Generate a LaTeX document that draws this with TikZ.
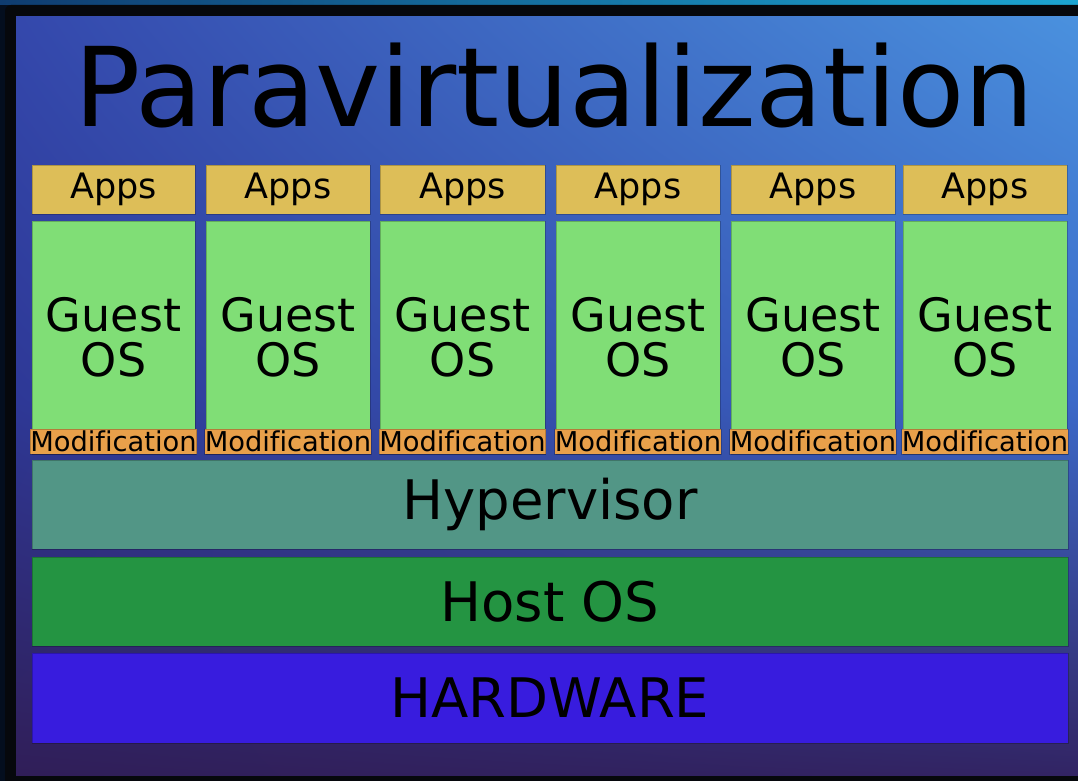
\documentclass[tikz,border=0pt]{standalone}
\usepackage{fontspec}
\setmainfont{DejaVu Sans}[Ligatures=CommonOff]
\usetikzlibrary{shadings}
\definecolor{appsc}{RGB}{221,190,88}
\definecolor{guestc}{RGB}{128,222,118}
\definecolor{modc}{RGB}{232,160,74}
\definecolor{hyperc}{RGB}{82,150,134}
\definecolor{hostc}{RGB}{36,148,66}
\definecolor{hwc}{RGB}{56,28,222}
\definecolor{outerc}{RGB}{4,14,30}
\definecolor{framec}{RGB}{6,8,12}
\definecolor{stripl}{RGB}{15,60,112}
\definecolor{stripr}{RGB}{28,165,210}
\definecolor{pUL}{RGB}{52,72,172}
\definecolor{pUR}{RGB}{74,145,222}
\definecolor{pML}{RGB}{46,56,150}
\definecolor{pMR}{RGB}{60,105,200}
\definecolor{pLL}{RGB}{48,30,88}
\definecolor{pLR}{RGB}{50,36,100}
\tikzset{
  layer/.style={inner sep=0pt, outer sep=0pt, draw=black, draw opacity=0.22, line width=1pt, text=black},
  appsbox/.style={layer, fill=appsc, minimum height=49pt, font=\fontsize{35}{35}\selectfont},
  guestbox/.style={layer, fill=guestc, minimum height=233pt, align=center, font=\fontsize{46}{45}\selectfont},
  modbox/.style={layer, fill=modc, minimum height=25pt, font=\fontsize{27.3}{27.3}\selectfont},
  widebox/.style={layer, minimum width=1036pt, font=\fontsize{54.5}{54.5}\selectfont},
}
\begin{document}
\begin{tikzpicture}[x=1pt,y=-1pt]
\useasboundingbox (0,0) rectangle (1078,781);
% outer background
\fill[outerc] (0,0) rectangle (1078,781);
\shade[left color=stripl, right color=stripr] (0,0) rectangle (1078,5);
% black frame
\fill[framec, rounded corners=6pt] (5,5) rectangle (1100,800);
% panel
\shade[upper left=pUL, upper right=pUR, lower left=pML, lower right=pMR] (16,17) rectangle (1078,400.5);
\shade[upper left=pML, upper right=pMR, lower left=pLL, lower right=pLR] (16,400) rectangle (1078,775);
% title
\node[anchor=base, inner sep=0pt, font=\fontsize{110}{110}\selectfont] (title) at (554,127) {Paravirtualization};
% columns
\foreach \i/\l/\r in {1/32/195, 2/206/370, 3/380/545, 4/556/720, 5/731/895, 6/903/1067}{
  \pgfmathsetmacro{\w}{\r-\l}
  \pgfmathsetmacro{\c}{(\r+\l)/2}
  \node[appsbox, minimum width=\w pt] (apps\i) at (\c,189.5) {Apps};
  \node[guestbox, minimum width=\w pt] (guest\i) at (\c,337.5) {Guest\\OS};
  \node[modbox, minimum width=\w pt] (mod\i) at (\c,441.5) {Modification};
}
\node[widebox, fill=hyperc, minimum height=89pt] (hyper) at (550,504.5) {Hypervisor};
\node[widebox, fill=hostc, minimum height=89pt] (host) at (550,601.5) {Host OS};
\node[widebox, fill=hwc, minimum height=90pt] (hw) at (550,698) {HARDWARE};
\end{tikzpicture}
\end{document}
